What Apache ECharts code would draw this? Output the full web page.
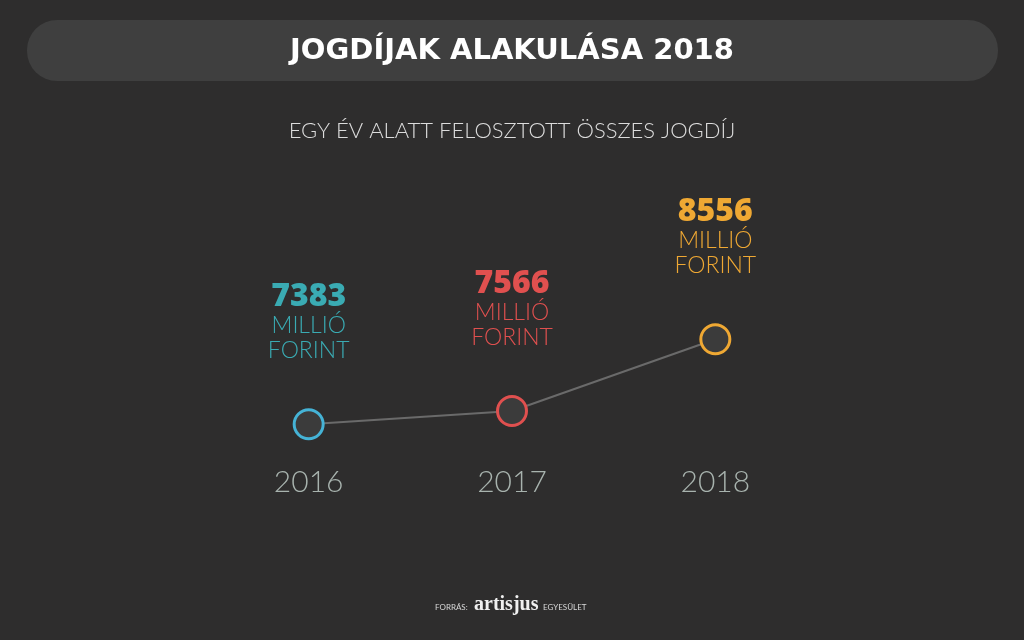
<!DOCTYPE html>
<html><head><meta charset="utf-8">
<script src="https://cdn.jsdelivr.net/npm/echarts@6/dist/echarts.min.js"></script>
<style>html,body{margin:0;padding:0;background:#2e2d2d;}#c{width:1024px;height:640px;}</style>
</head><body><div id="c"></div>
<script>
const years = ['2016', '2017', '2018'];
const values = [7383, 7566, 8556];
const unitLine1 = 'MILLIÓ';
const unitLine2 = 'FORINT';
const textColors = ['#3aabb3', '#e0504f', '#efa833'];
const ringColors = ['#45b3d6', '#e0504f', '#efa833'];

const chart = echarts.init(document.getElementById('c'));
const data = values.map((v, i) => ({
  value: v,
  itemStyle: { borderColor: ringColors[i] },
  label: {
    rich: {
      n: { color: textColors[i], fontSize: 32, fontWeight: 800, fontFamily: 'Open Sans', lineHeight: 32, align: 'center' },
      u: { color: textColors[i], fontSize: 23, fontWeight: 300, fontFamily: 'Lato', lineHeight: 25, align: 'center' }
    }
  }
}));
chart.setOption({
  backgroundColor: '#2e2d2d',
  animation: false,
  grid: { left: 207, right: 207, top: 307, bottom: 188 },
  xAxis: {
    type: 'category', data: years, boundaryGap: true,
    axisLine: { show: false }, axisTick: { show: false },
    axisLabel: { color: '#a8b3ae', fontSize: 30, fontWeight: 300, fontFamily: 'Lato', margin: 15 }
  },
  yAxis: { type: 'value', min: 7000, max: 9000, show: false, splitLine: { show: false } },
  series: [{
    type: 'line', data: data,
    symbol: 'circle', symbolSize: 29,
    lineStyle: { color: '#6a6a6a', width: 2 },
    itemStyle: { color: '#3b3b3b', borderWidth: 3 },
    label: {
      show: true, position: 'top', distance: 45,
      formatter: p => '{n|' + p.value + '}\n{u|' + unitLine1 + '}\n{u|' + unitLine2 + '}'
    },
    z: 3
  }],
  graphic: [
    { type: 'rect', shape: { x: 27, y: 20, width: 971, height: 61, r: 30 }, style: { fill: '#3f3f3f' }, z: -1 },
    { type: 'text', x: 512, y: 51, style: { text: 'JOGDÍJAK ALAKULÁSA 2018', fill: '#ffffff', font: 'bold 29px "DejaVu Sans"', align: 'center', verticalAlign: 'middle' } },
    { type: 'text', x: 512, y: 131, style: { text: 'EGY ÉV ALATT FELOSZTOTT ÖSSZES JOGDÍJ', fill: '#dcdcdc', font: '300 22px Lato', align: 'center', verticalAlign: 'middle' } },
    { type: 'text', x: 435, y: 607, style: { text: 'FORRÁS:', fill: '#d8d8d8', font: '400 8px Lato', align: 'left', verticalAlign: 'middle' } },
    { type: 'text', x: 474, y: 605, style: { text: 'artisjus', fill: '#f0f0f0', font: 'bold 20px "Liberation Serif"', align: 'left', verticalAlign: 'middle' } },
    { type: 'text', x: 543, y: 607, style: { text: 'EGYESÜLET', fill: '#d8d8d8', font: '400 8px Lato', align: 'left', verticalAlign: 'middle' } }
  ]
});
</script></body></html>
